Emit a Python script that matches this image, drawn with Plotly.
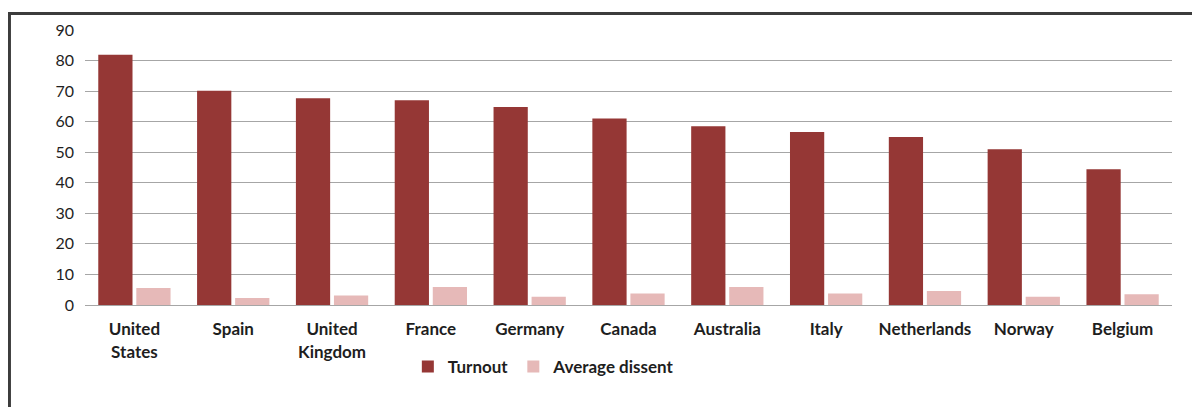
import plotly.graph_objects as go

countries = ['United<br>States', 'Spain', 'United<br>Kingdom', 'France', 'Germany', 'Canada',
             'Australia', 'Italy', 'Netherlands', 'Norway', 'Belgium']
turnout = [81.9, 70.1, 67.7, 67.0, 64.8, 61.0, 58.5, 56.6, 55.0, 51.0, 44.4]
dissent = [5.6, 2.3, 3.1, 5.9, 2.7, 3.8, 5.9, 3.8, 4.6, 2.7, 3.5]
y_ticks = [0, 10, 20, 30, 40, 50, 60, 70, 80, 90]

turnout_color = 'rgb(149,55,53)'
dissent_color = 'rgb(230,185,184)'
font_plot = 'Lato'
text_color = 'rgb(30,30,30)'
grid_color = 'rgb(166,166,166)'

fig = go.Figure(data=[
    go.Bar(name='Turnout', x=countries, y=turnout, marker_color=turnout_color, marker_line_width=0),
    go.Bar(name='Average dissent', x=countries, y=dissent, marker_color=dissent_color, marker_line_width=0),
])

fig.update_layout(barmode='group', bargap=0.23, bargroupgap=0.1)
# page body has an 8px margin, so the figure is a bit smaller than the window
fig.update_layout(autosize=False, width=1192, height=399)
fig.update_layout(margin=dict(l=77, r=28, t=17, b=102))
fig.update_layout(font_family=font_plot, font_color=text_color,
                  plot_bgcolor='white', paper_bgcolor='white')
fig.update_layout(legend=dict(orientation='h', x=0.297, xanchor='left', y=-0.225, yanchor='middle',
                              font=dict(size=17, color=text_color, weight='bold'),
                              itemwidth=30, traceorder='normal'))

fig.update_yaxes(range=[0, 90], tickvals=y_ticks, showgrid=True, gridcolor=grid_color, gridwidth=1,
                 zeroline=False, showline=False, tickfont=dict(size=16, color=text_color),
                 ticks='', ticklabelstandoff=10)
fig.update_xaxes(showline=True, linecolor=grid_color, linewidth=1, ticks='',
                 tickfont=dict(size=17, color=text_color, weight='bold'), tickangle=0,
                 ticklabelstandoff=9)

# outer chart frame (left and top edges visible, the rest runs off the page)
fig.add_shape(type='rect', xref='paper', yref='paper',
              x0=-0.0695, x1=1.2, y0=-0.5, y1=1.06,
              line=dict(color='rgb(60,60,60)', width=3), layer='above')

fig.write_html('out.html')
